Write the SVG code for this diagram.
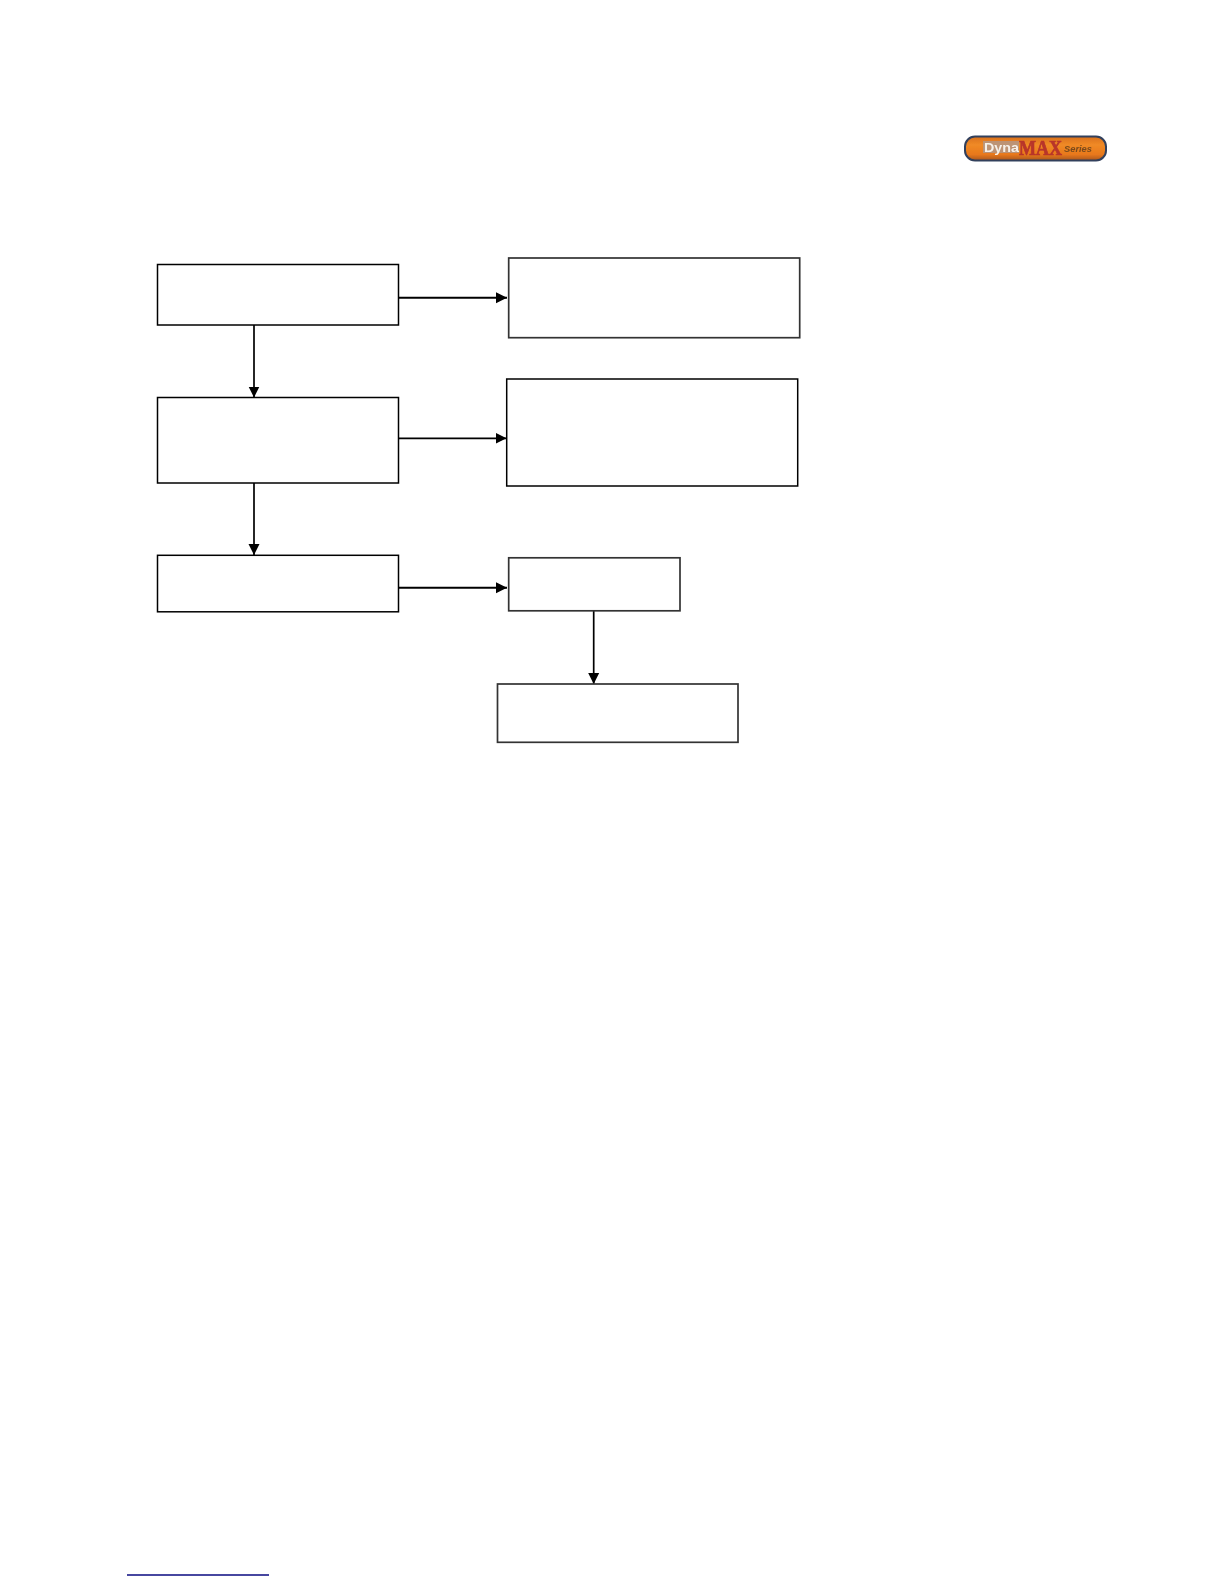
<svg xmlns="http://www.w3.org/2000/svg" width="1224" height="1584" viewBox="0 0 1224 1584">
<style>
.box{fill:#fff;stroke:#000;stroke-width:1.5}
.grey{stroke:#333;stroke-width:1.700}
.c{fill:none;stroke:#000;stroke-width:1.700}
.h{stroke-width:2}
</style>
<defs>
<marker id="a" markerUnits="userSpaceOnUse" markerWidth="11" markerHeight="12" refX="11" refY="6" orient="auto"><path d="M0 .5L11 6L0 11.5Z" fill="#000"/></marker>
<linearGradient id="g" x1="0" y1="0" x2="0" y2="1"><stop offset="0" stop-color="#d9701c"/><stop offset=".35" stop-color="#f08a26"/><stop offset=".75" stop-color="#e8781a"/><stop offset="1" stop-color="#a9561c"/></linearGradient>
<filter id="b" x="-5%" y="-20%" width="110%" height="140%"><feGaussianBlur stdDeviation=".7"/></filter>
</defs>
<rect width="1224" height="1584" fill="#fff"/>
<g id="logo" filter="url(#b)">
<rect x="965" y="136.500" width="141" height="24" rx="10" fill="url(#g)" stroke="#33415c" stroke-width="2"/>
<rect x="983" y="141" width="36" height="12" fill="#a89a98" opacity=".7"/>
<text x="984" y="151.500" font-family="'Liberation Sans',sans-serif" font-size="12.500" font-weight="700" fill="#f6f1ea" textLength="35" lengthAdjust="spacingAndGlyphs">Dyna</text>
<text x="1019" y="155" font-family="'Liberation Serif',serif" font-size="20" font-weight="700" fill="#b8352a" stroke="#b8352a" stroke-width=".7" textLength="43" lengthAdjust="spacingAndGlyphs">MAX</text>
<text x="1064" y="152" font-family="'Liberation Sans',sans-serif" font-size="9.500" font-style="italic" font-weight="700" fill="#7a4a1c" textLength="28" lengthAdjust="spacingAndGlyphs">Series</text>
</g>
<g id="connectors">
<path class="c h" d="M399 297.700H507" marker-end="url(#a)"/>
<path class="c" d="M399 438.300H506.500" marker-end="url(#a)"/>
<path class="c h" d="M399 587.700H507" marker-end="url(#a)"/>
<path class="c" d="M254 325V397.500" marker-end="url(#a)"/>
<path class="c" d="M254 483V555" marker-end="url(#a)"/>
<path class="c" d="M593.700 611V684" marker-end="url(#a)"/>
</g>
<g id="n1"><rect class="box" x="157.500" y="264.500" width="241" height="60.500"/></g>
<g id="n2"><rect class="box" x="157.500" y="397.500" width="241" height="85.500"/></g>
<g id="n3"><rect class="box" x="157.500" y="555.300" width="241" height="56.500"/></g>
<g id="n4"><rect class="box grey" x="508.700" y="258" width="291" height="79.700"/></g>
<g id="n5"><rect class="box" x="506.700" y="379" width="291" height="107"/></g>
<g id="n6"><rect class="box grey" x="508.700" y="557.800" width="171.300" height="53"/></g>
<g id="n7"><rect class="box grey" x="497.500" y="684" width="240.500" height="58.300"/></g>
<path id="rule" d="M127 1575H269" stroke="#0a0a80" stroke-width="1.600" fill="none"/>
</svg>
